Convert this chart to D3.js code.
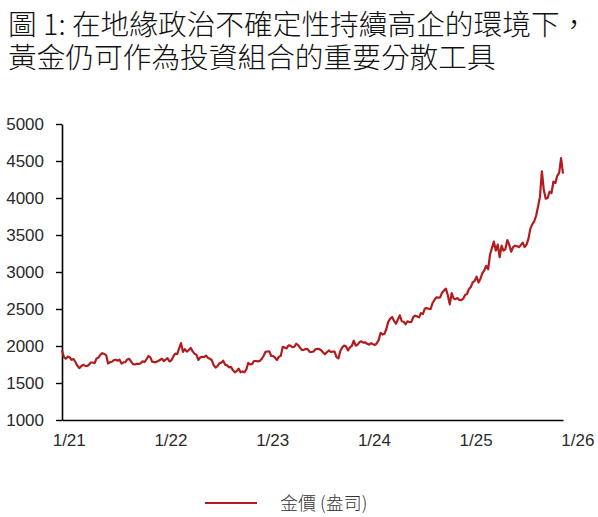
<!DOCTYPE html>
<html>
<head>
<meta charset="utf-8">
<script src="https://cdn.jsdelivr.net/npm/d3@7"></script>
<style>
  html, body { margin: 0; padding: 0; background: #fff; }
  svg { display: block; }
</style>
</head>
<body>
<svg id="chart" width="598" height="517"></svg>
<script>
// ---- Data (weekly gold price, USD/oz, Jan 2021 – Dec 2025) ----
const titleLines = ["圖 1: 在地緣政治不確定性持續高企的環境下，", "黃金仍可作為投資組合的重要分散工具"];
const seriesName = "金價 (盎司)";
const yTicks = [1000, 1500, 2000, 2500, 3000, 3500, 4000, 4500, 5000];
const xTickLabels = ["1/21", "1/22", "1/23", "1/24", "1/25", "1/26"];

const gold2021 = [1943, 1850, 1828, 1856, 1848, 1813, 1824, 1784, 1734, 1700, 1727, 1745, 1733,
  1729, 1744, 1777, 1777, 1768, 1831, 1844, 1881, 1903, 1891, 1877, 1764, 1781,
  1787, 1808, 1815, 1802, 1814, 1763, 1779, 1781, 1818, 1827, 1788, 1754, 1750,
  1761, 1757, 1767, 1793, 1783, 1818, 1865, 1846, 1788, 1783, 1782, 1798, 1809, 1829];
const gold2022 = [1797, 1817, 1835, 1791, 1808, 1859, 1898, 1889, 1966, 2040, 1921, 1958,
  1925, 1945, 1975, 1931, 1897, 1883, 1811, 1846, 1853, 1851, 1871, 1840, 1827,
  1811, 1742, 1708, 1727, 1766, 1775, 1802, 1747, 1738, 1712, 1717, 1675, 1644, 1661,
  1695, 1644, 1657, 1645, 1681, 1771, 1751, 1755, 1797, 1797, 1793, 1798, 1824];
const gold2023 = [1865, 1920, 1926, 1928, 1865, 1865, 1842, 1811, 1856, 1868, 1989, 1978, 1969,
  2008, 2004, 1983, 1990, 2030, 2011, 1977, 1946, 1948, 1961, 1958, 1921, 1919,
  1925, 1955, 1962, 1959, 1943, 1914, 1889, 1915, 1940, 1919, 1924, 1925, 1849,
  1833, 1932, 1981, 2006, 1992, 1940, 1981, 2002, 2072, 2004, 2019, 2053, 2063];
const gold2024 = [2045, 2049, 2029, 2018, 2039, 2024, 2013, 2036, 2083, 2179, 2155, 2165, 2233,
  2329, 2370, 2392, 2337, 2301, 2360, 2415, 2334, 2327, 2294, 2333, 2321, 2326,
  2391, 2411, 2400, 2387, 2443, 2431, 2507, 2512, 2503, 2497, 2577, 2622, 2658,
  2653, 2657, 2721, 2750, 2775, 2685, 2563, 2715, 2643, 2633, 2648, 2622, 2621];
const gold2025 = [2640, 2690, 2703, 2770, 2798, 2861, 2882, 2936, 2858, 2910, 2984, 3023, 3084,
  3037, 3237, 3327, 3410, 3290, 3370, 3200, 3357, 3289, 3310, 3432, 3368, 3274,
  3336, 3355, 3350, 3336, 3363, 3398, 3336, 3371, 3448, 3586, 3643, 3685, 3760,
  3886, 4018, 4360, 4110, 3990, 4000, 4085, 4065, 4220, 4200, 4300, 4340, 4540, 4330];

const goldPrice = [...gold2021, ...gold2022, ...gold2023, ...gold2024, ...gold2025];

// label spacing in weekly points (Excel category-axis interval)
const labelStartWeek = 3.5;
const labelEveryWeeks = 53;

// ---- Layout ----
const lineColor = "#B31B1E";
const margin = { left: 62, right: 35, top: 124, bottom: 97 };
const W = 598, H = 517;

const svg = d3.select("#chart");
svg.append("rect").attr("width", W).attr("height", H).attr("fill", "#fff");

// Title (two separate lines)
titleLines.forEach((t, i) => {
  svg.append("text")
    .attr("x", 8).attr("y", 35 + i * 33)
    .attr("font-family", "'Noto Sans CJK TC', 'Noto Sans CJK SC', sans-serif")
    .attr("font-size", 28.7)
    .attr("font-weight", 300)
    .attr("fill", "#111")
    .text(t);
});

const x = d3.scaleLinear()
  .domain([0, goldPrice.length - 1])
  .range([margin.left, W - margin.right]);
const y = d3.scaleLinear()
  .domain([1000, 5000])
  .range([H - margin.bottom, margin.top]);

// Y axis
const yAxis = svg.append("g")
  .attr("transform", `translate(${margin.left},0)`)
  .call(d3.axisLeft(y).tickValues(yTicks).tickSize(6).tickSizeOuter(0).tickPadding(12).tickFormat(d3.format("d")));
yAxis.select(".domain").attr("stroke", "#000").attr("stroke-width", 1.6);
yAxis.selectAll(".tick line").attr("stroke", "#000").attr("stroke-width", 1.4);
yAxis.selectAll("text")
  .attr("font-family", "'Liberation Sans', Arial, sans-serif")
  .attr("font-size", 17)
  .attr("fill", "#2a2a2a");

// X axis
const xTickVals = xTickLabels.map((_, i) => labelStartWeek + i * labelEveryWeeks);
const xAxis = svg.append("g")
  .attr("transform", `translate(0,${y(1000)})`)
  .call(d3.axisBottom(x).tickValues(xTickVals).tickSize(0).tickSizeOuter(0).tickPadding(14)
    .tickFormat((d, i) => xTickLabels[i]));
xAxis.select(".domain").attr("stroke", "#000").attr("stroke-width", 1.6);
xAxis.selectAll("text")
  .attr("font-family", "'Liberation Sans', Arial, sans-serif")
  .attr("font-size", 17)
  .attr("fill", "#2a2a2a");

// Line
const line = d3.line()
  .x((d, i) => x(i))
  .y(d => y(d));
svg.append("path")
  .datum(goldPrice)
  .attr("fill", "none")
  .attr("stroke", lineColor)
  .attr("stroke-width", 2.2)
  .attr("stroke-linejoin", "round")
  .attr("d", line);

// Legend
const lg = svg.append("g").attr("transform", "translate(205,503)");
lg.append("line").attr("x1", 0).attr("x2", 52).attr("y1", 0).attr("y2", 0)
  .attr("stroke", lineColor).attr("stroke-width", 2);
lg.append("text").attr("x", 75).attr("y", 6.5)
  .attr("font-family", "'Noto Sans CJK TC', 'Liberation Sans', sans-serif")
  .attr("font-size", 18)
  .attr("font-weight", 300)
  .attr("fill", "#333")
  .text(seriesName);
</script>
</body>
</html>
